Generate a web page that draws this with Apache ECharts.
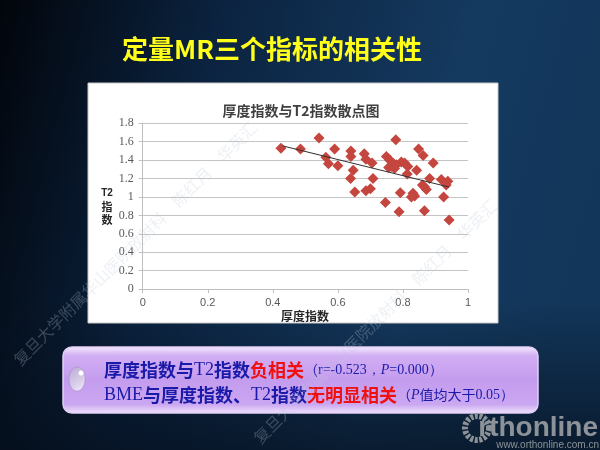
<!DOCTYPE html>
<html>
<head>
<meta charset="utf-8">
<script src="https://cdn.jsdelivr.net/npm/echarts@6/dist/echarts.min.js"></script>
<style>
html,body{margin:0;padding:0;background:#0b1e36;}
#c{width:600px;height:450px;}
</style>
</head>
<body>
<div id="c"></div>
<script>
// ---- data ----
const thicknessIndex = [0.425,0.485,0.542,0.563,0.571,0.590,0.600,0.640,0.640,0.639,0.647,0.652,0.681,0.686,0.705,0.708,0.686,0.700,0.746,0.778,0.749,0.759,0.769,0.764,0.780,0.774,0.795,0.805,0.815,0.813,0.842,0.848,0.862,0.893,0.882,0.918,0.938,0.933,0.866,0.860,0.872,0.792,0.831,0.836,0.826,0.925,0.788,0.866,0.942,0.756];
const t2Index        = [1.53,1.52,1.64,1.43,1.36,1.52,1.34,1.50,1.44,1.20,1.29,1.055,1.47,1.41,1.37,1.20,1.066,1.09,0.94,1.62,1.44,1.40,1.37,1.33,1.35,1.31,1.38,1.37,1.33,1.25,1.29,1.52,1.45,1.37,1.20,1.19,1.17,1.13,1.11,1.13,1.08,1.045,1.04,1.01,1.00,1.00,0.84,0.85,0.75,1.32];
const trendX = [0.43, 0.942];
const trendY = [1.555, 1.107];
const xTicks = [0, 0.2, 0.4, 0.6, 0.8, 1];
const yTicks = [0, 0.2, 0.4, 0.6, 0.8, 1, 1.2, 1.4, 1.6, 1.8];

const slideTitle = '定量MR三个指标的相关性';
const chartTitle = '厚度指数与T2指数散点图';
const xName = '厚度指数';
const watermark = '复旦大学附属华山医院放射科　陈红月　华英汇';

const points = thicknessIndex.map((x, i) => [x, t2Index[i]]);
const trend = trendX.map((x, i) => [x, trendY[i]]);

const chart = echarts.init(document.getElementById('c'), null, {renderer: 'canvas'});

const cjk = '"Noto Sans CJK SC", sans-serif';
const blue = '#1a1aa8';
const red = '#f01010';

const richStyles = {
  b: {fill: blue, font: 'bold 18px ' + cjk},
  r: {fill: red, font: 'bold 18px ' + cjk},
  l: {fill: blue, font: '18px "Liberation Serif"'},
  s: {fill: blue, font: '14px ' + cjk},
  ls: {fill: blue, font: '14px "Liberation Serif"'},
  li: {fill: blue, font: 'italic 14px "Liberation Serif"'}
};

const option = {
  animation: false,
  backgroundColor: '#0b1e36',
  grid: {left: 142.7, right: 132, top: 123.3, bottom: 161, show: false},
  xAxis: {
    type: 'value', min: xTicks[0], max: xTicks[xTicks.length - 1], interval: 0.2,
    axisLine: {show: true, lineStyle: {color: '#bfbfbf'}},
    axisTick: {show: true, length: 4, lineStyle: {color: '#bfbfbf'}},
    splitLine: {show: false},
    axisLabel: {color: '#595959', fontSize: 11, fontFamily: 'Liberation Sans', margin: 8}
  },
  yAxis: {
    type: 'value', min: yTicks[0], max: yTicks[yTicks.length - 1], interval: 0.2,
    axisLine: {show: true, lineStyle: {color: '#bfbfbf'}},
    axisTick: {show: true, length: 4, lineStyle: {color: '#bfbfbf'}},
    splitLine: {show: true, lineStyle: {color: '#c4c4c4'}},
    axisLabel: {color: '#595959', fontSize: 12, fontFamily: 'Liberation Serif', margin: 9}
  },
  series: [
    {
      type: 'scatter', data: points, symbol: 'diamond', symbolSize: 11,
      itemStyle: {color: '#c4463f', opacity: 1}, z: 3
    },
    {
      type: 'line', data: trend, symbol: 'none', z: 4,
      lineStyle: {color: '#303030', width: 1}
    }
  ],
  graphic: [
    // slide background
    {type: 'rect', z: -100, silent: true, shape: {x: 0, y: 0, width: 600, height: 450},
     style: {fill: new echarts.graphic.LinearGradient(0, 0, 1, 0.35, [
       {offset: 0, color: '#02050b'}, {offset: 0.35, color: '#0b2340'},
       {offset: 0.75, color: '#153a60'}, {offset: 1, color: '#12365a'}])}},
    {type: 'rect', z: -99, silent: true, shape: {x: 0, y: 300, width: 600, height: 150},
     style: {fill: new echarts.graphic.LinearGradient(0, 0, 0, 1, [
       {offset: 0, color: 'rgba(4,12,24,0)'}, {offset: 1, color: 'rgba(4,12,24,0.65)'}])}},
    // white chart box
    {type: 'rect', z: -50, silent: true, shape: {x: 88, y: 83, width: 410, height: 240},
     style: {fill: '#ffffff', stroke: '#c8c8c8', lineWidth: 1}},
    // slide title
    {type: 'text', z: 100, left: 122, top: 36,
     style: {text: slideTitle, fill: '#ffff1a', font: 'bold 26px ' + cjk,
       shadowColor: 'rgba(0,0,0,0.8)', shadowBlur: 2, shadowOffsetX: 1, shadowOffsetY: 1}},
    // chart title
    {type: 'text', z: 100, x: 301, y: 111,
     style: {text: chartTitle, fill: '#3f3f3f', font: 'bold 14px ' + cjk, align: 'center', verticalAlign: 'middle'}},
    // y axis name
    {type: 'text', z: 100, x: 107, y: 193,
     style: {text: 'T2', fill: '#262626', font: 'bold 10px "Liberation Sans"', align: 'center', verticalAlign: 'middle'}},
    {type: 'text', z: 100, x: 107, y: 207,
     style: {text: '指', fill: '#262626', font: 'bold 11px ' + cjk, align: 'center', verticalAlign: 'middle'}},
    {type: 'text', z: 100, x: 107, y: 220,
     style: {text: '数', fill: '#262626', font: 'bold 11px ' + cjk, align: 'center', verticalAlign: 'middle'}},
    // x axis name
    {type: 'text', z: 100, x: 305, y: 316,
     style: {text: xName, fill: '#262626', font: 'bold 12px ' + cjk, align: 'center', verticalAlign: 'middle'}},
    // bottom lavender box
    {type: 'rect', z: 50, silent: true, shape: {x: 63, y: 347, width: 475, height: 66, r: 9},
     style: {fill: new echarts.graphic.LinearGradient(0, 0, 0, 1, [
       {offset: 0, color: '#f6eefe'}, {offset: 0.14, color: '#d2aef4'}, {offset: 0.5, color: '#c49cee'},
       {offset: 0.86, color: '#cba6f1'}, {offset: 1, color: '#f1e6fc'}]),
       stroke: '#e2cff8', lineWidth: 1.5}},
    // droplet
    {type: 'ellipse', z: 60, shape: {cx: 77, cy: 379, rx: 8, ry: 12},
     style: {fill: new echarts.graphic.LinearGradient(0, 0, 1, 1, [
       {offset: 0, color: '#b9a9d2'}, {offset: 0.6, color: '#d8cdea'}, {offset: 1, color: '#f4eefb'}]),
       stroke: 'rgba(120,100,160,0.35)', lineWidth: 0.8}},
    {type: 'circle', z: 61, shape: {cx: 81, cy: 373, r: 2.5}, style: {fill: '#ffffff'}},
    // text line 1
    {type: 'text', z: 70, x: 104, y: 370,
     style: {text: '{b|厚度指数与}{l|T2}{b|指数}{r|负相关}{s|（}{ls|r=-0.523，}{li|P}{ls|=0.000）}',
       verticalAlign: 'middle', rich: richStyles}},
    // text line 2
    {type: 'text', z: 70, x: 104, y: 395,
     style: {text: '{l|BME}{b|与厚度指数、}{l|T2}{b|指数}{r|无明显相关}{s|（}{li|P}{s|值均大于}{ls|0.05）}',
       verticalAlign: 'middle', rich: richStyles}},
    // watermarks
    {type: 'text', z: 200, silent: true, x: 22, y: 368, rotation: Math.PI / 4,
     style: {text: watermark, fill: 'rgba(190,200,215,0.28)', font: '16px ' + cjk, verticalAlign: 'bottom'}},
    {type: 'text', z: 200, silent: true, x: 262, y: 446, rotation: Math.PI / 4,
     style: {text: watermark, fill: 'rgba(190,200,215,0.28)', font: '16px ' + cjk, verticalAlign: 'bottom'}},
    // logo
    {type: 'circle', z: 90, shape: {cx: 477, cy: 428, r: 12},
     style: {fill: 'none', stroke: '#8c9297', lineWidth: 6, lineDash: [3, 1.5]}},
    {type: 'text', z: 90, x: 598, y: 428,
     style: {text: 'rthonline', fill: '#8c9297', font: 'bold 28px "Liberation Sans"', align: 'right', verticalAlign: 'middle'}},
    {type: 'text', z: 90, x: 599, y: 445,
     style: {text: 'www.orthonline.com.cn', fill: '#8c9297', font: '10px "Liberation Sans"', align: 'right', verticalAlign: 'middle'}}
  ]
};
chart.setOption(option);
</script>
</body>
</html>
